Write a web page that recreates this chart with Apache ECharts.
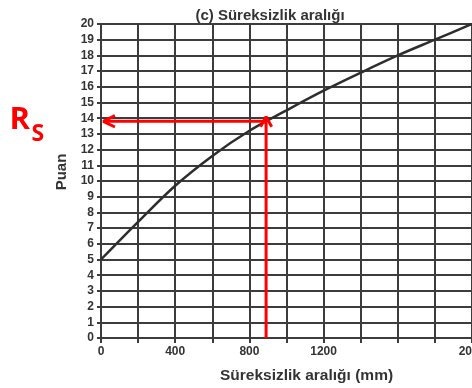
<!DOCTYPE html>
<html><head><meta charset="utf-8">
<script src="https://cdn.jsdelivr.net/npm/echarts@6/dist/echarts.min.js"></script>
<style>html,body{margin:0;padding:0;background:#fff}#c{width:472px;height:388px}</style>
</head><body><div id="c"></div>
<script>
const xValues = [0, 200, 400, 600, 800, 1000, 1200, 1400, 1600, 1800, 2000];
const yValues = [5, 7.4, 9.7, 11.6, 13.2, 14.5, 15.75, 16.9, 18.0, 19.0, 20];
const xTickLabels = [0, 400, 800, 1200, 2000];
const readX = 890;
const readY = 13.8;
const arrowTipY = 14.1;
const titleText = '(c) Süreksizlik aralığı';
const xName = 'Süreksizlik aralığı (mm)';
const yName = 'Puan';

const chart = echarts.init(document.getElementById('c'));
const red = '#ff0000';
const dark = '#3c3c3c';
const font = 'Liberation Sans';
const curve = xValues.map((x, i) => [x, yValues[i]]);
chart.setOption({
  animation: false,
  title: {text: titleText, left: 265, top: 3, textAlign: 'center',
    textStyle: {fontFamily: font, fontWeight: 'bold', fontSize: 15, color: '#333'}},
  grid: {left: 101, right: 0, top: 24, bottom: 50, containLabel: false, outerBoundsMode: 'none'},
  xAxis: {type: 'value', min: 0, max: 2000, interval: 200,
    name: xName, nameLocation: 'middle', nameGap: 30,
    nameTextStyle: {fontFamily: font, fontWeight: 'bold', fontSize: 15.5, color: '#333', padding: [0, 0, 0, 40]},
    axisLine: {show: true, lineStyle: {color: dark, width: 2}},
    axisTick: {show: true, length: 5, lineStyle: {color: dark, width: 2}},
    axisLabel: {margin: 8, fontFamily: font, fontWeight: 'bold', fontSize: 12, color: '#333',
      formatter: v => xTickLabels.indexOf(v) >= 0 ? String(v) : ''},
    splitLine: {show: true, lineStyle: {color: dark, width: 2}}},
  yAxis: {type: 'value', min: 0, max: 20, interval: 1,
    name: yName, nameLocation: 'middle', nameGap: 31, nameRotate: 90,
    nameTextStyle: {fontFamily: font, fontWeight: 'bold', fontSize: 15, color: '#333', padding: [0, 0, 0, 18]},
    axisLine: {show: true, lineStyle: {color: dark, width: 2}},
    axisTick: {show: true, length: 4, lineStyle: {color: dark, width: 2}},
    axisLabel: {margin: 7, fontFamily: font, fontWeight: 'bold', fontSize: 12, color: '#333'},
    splitLine: {show: true, lineStyle: {color: dark, width: 2}}},
  graphic: [
    {type: 'text', x: 9.5, y: 120, style: {text: 'R', fontFamily: 'Open Sans', fontWeight: 'bold', fontSize: 31, fill: red, align: 'left', verticalAlign: 'middle'}},
    {type: 'text', x: 31.5, y: 134, style: {text: 'S', fontFamily: 'Open Sans', fontWeight: 'bold', fontSize: 23, fill: red, align: 'left', verticalAlign: 'middle'}}
  ],
  series: [
    {type: 'line', data: curve, smooth: 0.35, showSymbol: false, lineStyle: {color: '#2e2e2e', width: 2.5}, z: 3},
    {type: 'line', data: [[readX, 0], [readX, arrowTipY]], showSymbol: false, lineStyle: {color: red, width: 3}, z: 4},
    {type: 'line', data: [[readX - 30, arrowTipY - 0.64], [readX, arrowTipY], [readX + 30, arrowTipY - 0.64]], showSymbol: false, lineStyle: {color: red, width: 3}, z: 4},
    {type: 'line', data: [[readX, readY], [12, readY]], showSymbol: false, lineStyle: {color: red, width: 3}, z: 4},
    {type: 'line', data: [[75, readY + 0.36], [12, readY], [75, readY - 0.36]], showSymbol: false, lineStyle: {color: red, width: 3}, z: 4}
  ]
});
</script></body></html>
